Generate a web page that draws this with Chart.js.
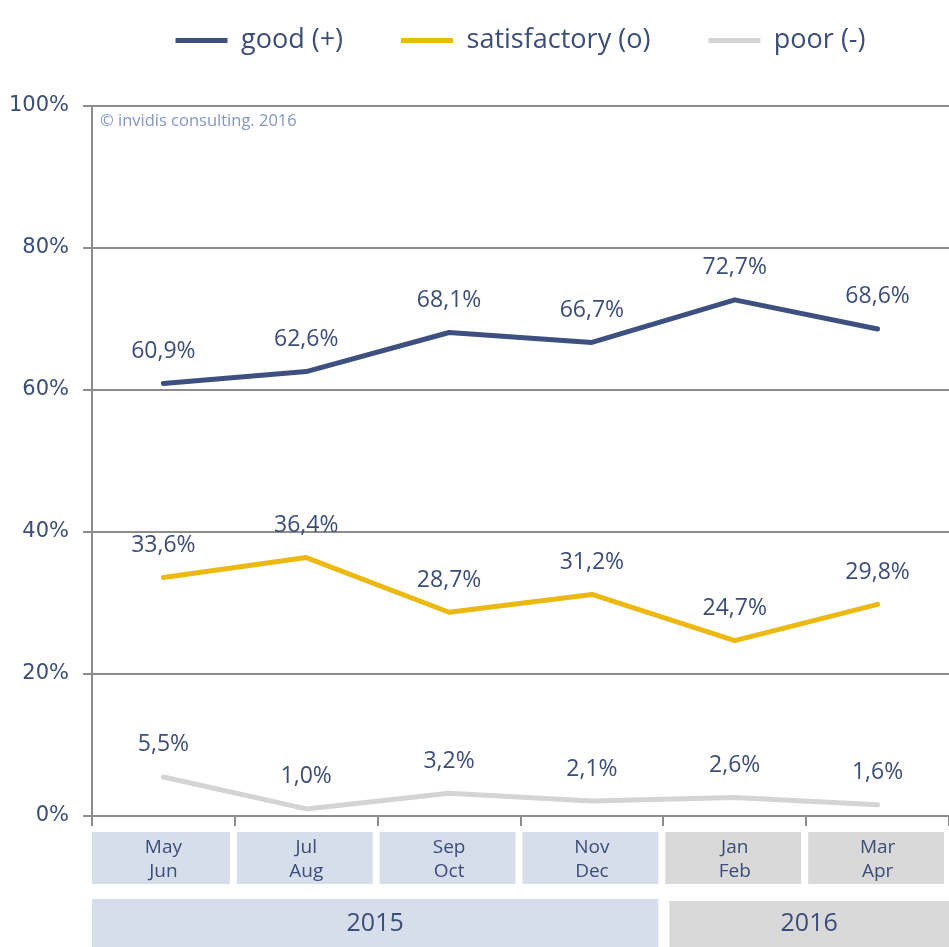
<!DOCTYPE html>
<html>
<head>
<meta charset="utf-8">
<script src="https://cdn.jsdelivr.net/npm/chart.js@4"></script>
<style>
  html, body { margin: 0; padding: 0; background: #fff; }
  #wrap { width: 949px; height: 947px; }
</style>
</head>
<body>
<div id="wrap"><canvas id="trendChart" width="949" height="947"></canvas></div>
<script>
const periods = [['May', 'Jun'], ['Jul', 'Aug'], ['Sep', 'Oct'], ['Nov', 'Dec'], ['Jan', 'Feb'], ['Mar', 'Apr']];
const years = [{ label: '2015', from: 0, to: 3 }, { label: '2016', from: 4, to: 5 }];
const good = [60.9, 62.6, 68.1, 66.7, 72.7, 68.6];
const satisfactory = [33.6, 36.4, 28.7, 31.2, 24.7, 29.8];
const poor = [5.5, 1.0, 3.2, 2.1, 2.6, 1.6];
const yTicks = [0, 20, 40, 60, 80, 100];

const textBlue = '#3b4d7a';
const font = '"Open Sans", sans-serif';

// labels above each point, plus copyright note and the period/year boxes
const decorations = {
  id: 'decorations',
  afterDatasetsDraw(chart) {
    const ctx = chart.ctx;
    ctx.save();
    ctx.textAlign = 'center';
    ctx.textBaseline = 'middle';
    ctx.fillStyle = textBlue;
    ctx.font = '23px ' + font;
    chart.data.datasets.forEach((ds, i) => {
      chart.getDatasetMeta(i).data.forEach((pt, j) => {
        ctx.fillText(ds.data[j].toFixed(1).replace('.', ',') + '%', pt.x, pt.y - 32);
      });
    });

    const area = chart.chartArea;
    ctx.textAlign = 'left';
    ctx.font = '16.5px ' + font;
    ctx.fillStyle = '#8195c6';
    ctx.fillText('\u00a9 invidis consulting. 2016', area.left + 8, area.top + 15);

    const x = chart.scales.x;
    const colW = (area.right - area.left) / periods.length;
    ctx.textAlign = 'center';
    periods.forEach((p, j) => {
      const x0 = area.left + j * colW;
      const is2016 = j >= years[1].from;
      ctx.fillStyle = is2016 ? '#d9d9d9' : '#d6ddeb';
      ctx.fillRect(x0 + (j === 0 ? 0 : 2), area.bottom + 16, colW - (j === 0 ? 5 : 7), 52);
      ctx.fillStyle = textBlue;
      ctx.font = '19px ' + font;
      const cx = x.getPixelForValue(j);
      ctx.fillText(p[0], cx, area.bottom + 32);
      ctx.fillText(p[1], cx, area.bottom + 56);
    });
    years.forEach((yr, k) => {
      const x0 = area.left + yr.from * colW + (k === 0 ? 0 : 6);
      const x1 = area.left + (yr.to + 1) * colW - (k === 0 ? 5 : 0);
      ctx.fillStyle = k === 1 ? '#d9d9d9' : '#d6ddeb';
      ctx.fillRect(x0, area.bottom + 83 + k * 2, x1 - x0, 60);
      ctx.fillStyle = textBlue;
      ctx.font = '25px ' + font;
      ctx.fillText(yr.label, (x0 + x1) / 2, area.bottom + 108);
    });
    ctx.restore();
  }
};

// legend takes the top band, its row sits higher than Chart.js would put it
const legendPlace = {
  id: 'legendPlace',
  beforeInit(chart) {
    const fit = chart.legend.fit;
    chart.legend.fit = function () {
      fit.bind(chart.legend)();
      this.height = 106;
    };
  },
  afterLayout(chart) {
    chart.legend.top -= 31;
  }
};

function lineSet(label, data, color) {
  return {
    label: label,
    data: data,
    borderColor: color,
    backgroundColor: color,
    borderWidth: 5,
    borderCapStyle: 'round',
    borderJoinStyle: 'round',
    pointRadius: 0,
    pointStyle: 'line',
    tension: 0
  };
}

new Chart(document.getElementById('trendChart'), {
  type: 'line',
  data: {
    labels: periods.map(p => p.join(' ')),
    datasets: [
      lineSet('good (+)', good, '#3d5080'),
      lineSet('satisfactory (o)', satisfactory, '#ecb912'),
      lineSet('poor (-)', poor, '#d4d4d4')
    ]
  },
  options: {
    responsive: false,
    animation: false,
    layout: { padding: 0 },
    plugins: {
      legend: {
        position: 'top',
        fullSize: false,
        labels: {
          usePointStyle: true,
          pointStyle: 'line',
          pointStyleWidth: 52,
          boxHeight: 6,
          padding: 58,
          color: textBlue,
          font: { family: '"Open Sans", sans-serif', size: 27 }
        }
      },
      tooltip: { enabled: false }
    },
    scales: {
      x: {
        offset: true,
        grid: { offset: true, drawOnChartArea: false, tickLength: 10, color: '#8c8c8c', lineWidth: 2 },
        border: { color: '#8c8c8c', width: 2 },
        ticks: { display: false },
        afterFit(scale) { scale.height = 131; }
      },
      y: {
        min: 0,
        max: 100,
        afterBuildTicks(scale) { scale.ticks = yTicks.map(v => ({ value: v })); },
        grid: { color: '#8c8c8c', lineWidth: 2, tickLength: 9 },
        border: { color: '#8c8c8c', width: 2 },
        ticks: {
          color: textBlue,
          padding: 14,
          font: { family: '"DejaVu Sans", sans-serif', size: 21 },
          callback: v => v + '%'
        },
        afterFit(scale) { scale.width = 92; }
      }
    }
  },
  plugins: [legendPlace, decorations]
});
</script>
</body>
</html>
